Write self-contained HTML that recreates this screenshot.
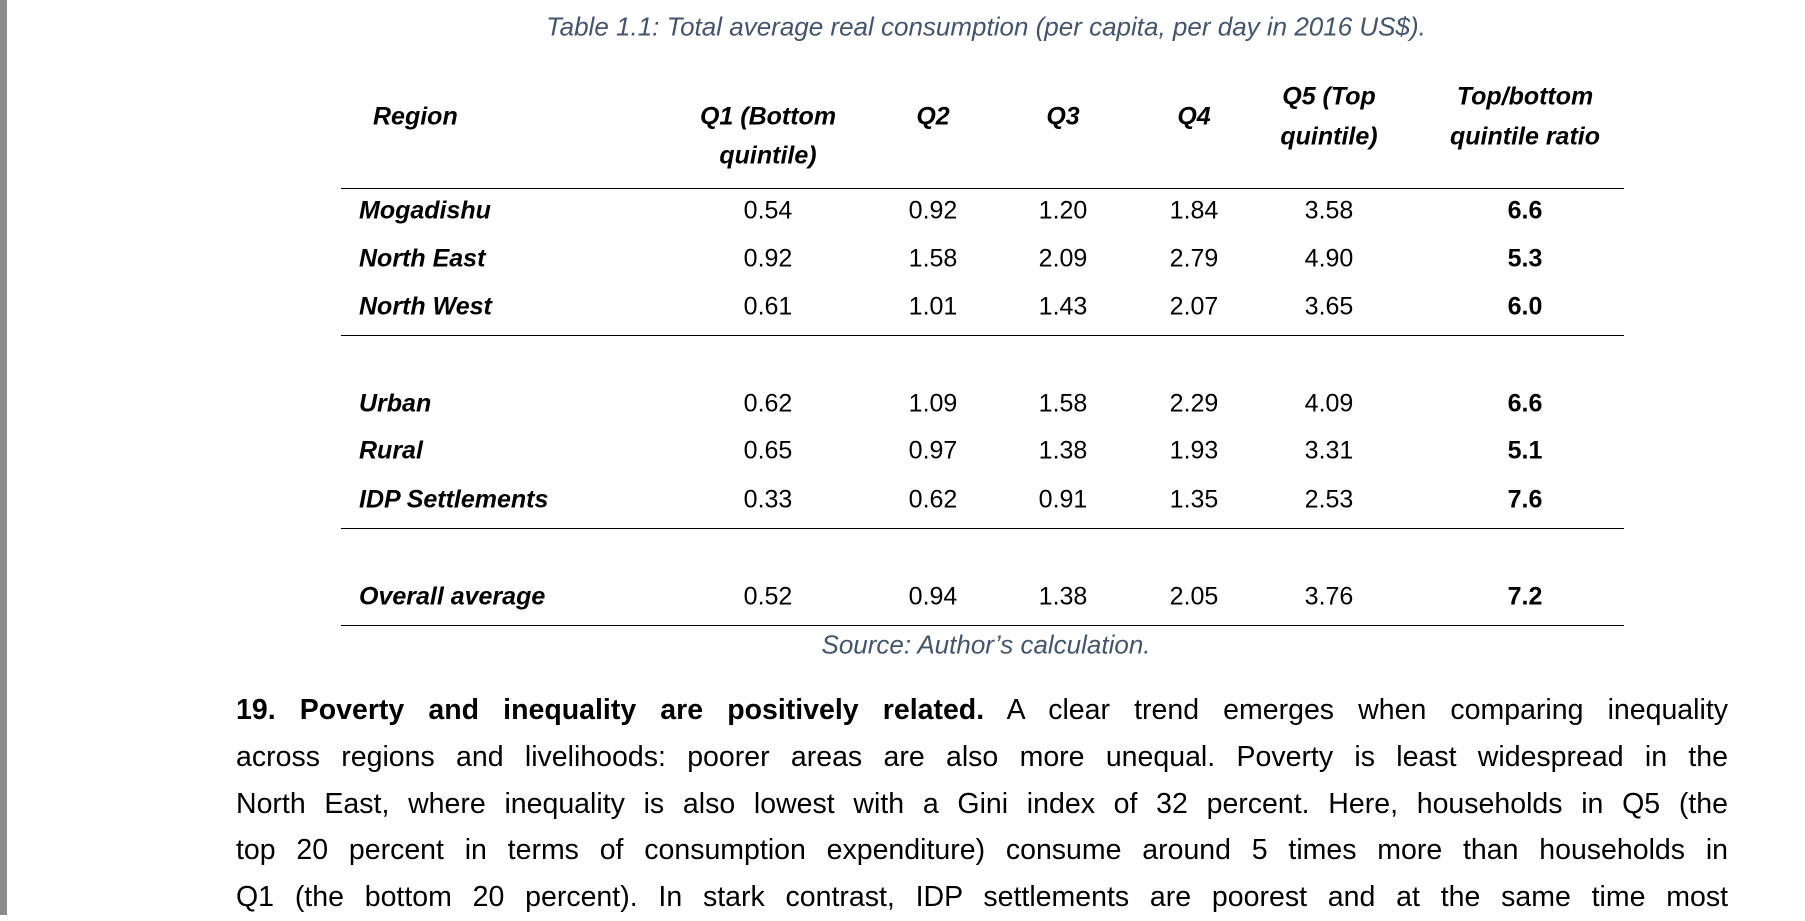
<!DOCTYPE html>
<html><head><meta charset="utf-8"><style>
html,body{margin:0;padding:0;background:#fff;}
body{width:1805px;height:915px;position:relative;overflow:hidden;font-family:"Liberation Sans",sans-serif;color:#000;}
.bar{position:absolute;left:0;top:0;width:7px;height:915px;background:#8a8a8a;}
.t{position:absolute;white-space:nowrap;transform:translate(-50%,-50%);}
.l{position:absolute;white-space:nowrap;transform:translateY(-50%);}
.cap{font-style:italic;color:#44546a;font-size:26px;}
.h{font-weight:bold;font-style:italic;font-size:25px;}
.n{font-size:25px;}
.b{font-weight:bold;font-size:25px;}
.rl{font-weight:bold;font-style:italic;font-size:25px;left:359px;}
.hr{position:absolute;left:341px;width:1283px;height:0;border-top:1.5px solid #000;}
.p{position:absolute;left:236px;width:1492px;font-size:28.5px;line-height:46.8px;text-align:justify;text-align-last:justify;top:687px;}
.p div{height:46.8px;white-space:nowrap;}
</style></head><body>
<div class="bar"></div>
<div class="t cap" style="left:986px;top:27px">Table 1.1: Total average real consumption (per capita, per day in 2016 US$).</div>
<div class="l h" style="left:373px;top:117px">Region</div>
<div class="t h" style="left:768px;top:117px">Q1 (Bottom</div>
<div class="t h" style="left:768px;top:156px">quintile)</div>
<div class="t h" style="left:933px;top:117px">Q2</div>
<div class="t h" style="left:1063px;top:117px">Q3</div>
<div class="t h" style="left:1194px;top:117px">Q4</div>
<div class="t h" style="left:1329px;top:97px">Q5 (Top</div>
<div class="t h" style="left:1329px;top:137px">quintile)</div>
<div class="t h" style="left:1525px;top:97px">Top/bottom</div>
<div class="t h" style="left:1525px;top:137px">quintile ratio</div>
<div class="hr" style="top:188px"></div>
<div class="hr" style="top:335px"></div>
<div class="hr" style="top:528px"></div>
<div class="hr" style="top:625px"></div>

<div class="l rl" style="top:211px">Mogadishu</div>
<div class="t n" style="left:768px;top:211px">0.54</div><div class="t n" style="left:933px;top:211px">0.92</div><div class="t n" style="left:1063px;top:211px">1.20</div><div class="t n" style="left:1194px;top:211px">1.84</div><div class="t n" style="left:1329px;top:211px">3.58</div><div class="t b" style="left:1525px;top:211px">6.6</div>

<div class="l rl" style="top:259px">North East</div>
<div class="t n" style="left:768px;top:259px">0.92</div><div class="t n" style="left:933px;top:259px">1.58</div><div class="t n" style="left:1063px;top:259px">2.09</div><div class="t n" style="left:1194px;top:259px">2.79</div><div class="t n" style="left:1329px;top:259px">4.90</div><div class="t b" style="left:1525px;top:259px">5.3</div>

<div class="l rl" style="top:307px">North West</div>
<div class="t n" style="left:768px;top:307px">0.61</div><div class="t n" style="left:933px;top:307px">1.01</div><div class="t n" style="left:1063px;top:307px">1.43</div><div class="t n" style="left:1194px;top:307px">2.07</div><div class="t n" style="left:1329px;top:307px">3.65</div><div class="t b" style="left:1525px;top:307px">6.0</div>

<div class="l rl" style="top:404px">Urban</div>
<div class="t n" style="left:768px;top:404px">0.62</div><div class="t n" style="left:933px;top:404px">1.09</div><div class="t n" style="left:1063px;top:404px">1.58</div><div class="t n" style="left:1194px;top:404px">2.29</div><div class="t n" style="left:1329px;top:404px">4.09</div><div class="t b" style="left:1525px;top:404px">6.6</div>

<div class="l rl" style="top:451px">Rural</div>
<div class="t n" style="left:768px;top:451px">0.65</div><div class="t n" style="left:933px;top:451px">0.97</div><div class="t n" style="left:1063px;top:451px">1.38</div><div class="t n" style="left:1194px;top:451px">1.93</div><div class="t n" style="left:1329px;top:451px">3.31</div><div class="t b" style="left:1525px;top:451px">5.1</div>

<div class="l rl" style="top:500px">IDP Settlements</div>
<div class="t n" style="left:768px;top:500px">0.33</div><div class="t n" style="left:933px;top:500px">0.62</div><div class="t n" style="left:1063px;top:500px">0.91</div><div class="t n" style="left:1194px;top:500px">1.35</div><div class="t n" style="left:1329px;top:500px">2.53</div><div class="t b" style="left:1525px;top:500px">7.6</div>

<div class="l rl" style="top:597px">Overall average</div>
<div class="t n" style="left:768px;top:597px">0.52</div><div class="t n" style="left:933px;top:597px">0.94</div><div class="t n" style="left:1063px;top:597px">1.38</div><div class="t n" style="left:1194px;top:597px">2.05</div><div class="t n" style="left:1329px;top:597px">3.76</div><div class="t b" style="left:1525px;top:597px">7.2</div>

<div class="t cap" style="left:986px;top:645px">Source: Author’s calculation.</div>

<div class="p">
<div><b>19. Poverty and inequality are positively related.</b> A clear trend emerges when comparing inequality</div>
<div>across regions and livelihoods: poorer areas are also more unequal. Poverty is least widespread in the</div>
<div>North East, where inequality is also lowest with a Gini index of 32 percent. Here, households in Q5 (the</div>
<div>top 20 percent in terms of consumption expenditure) consume around 5 times more than households in</div>
<div>Q1 (the bottom 20 percent). In stark contrast, IDP settlements are poorest and at the same time most</div>
</div>
</body></html>
